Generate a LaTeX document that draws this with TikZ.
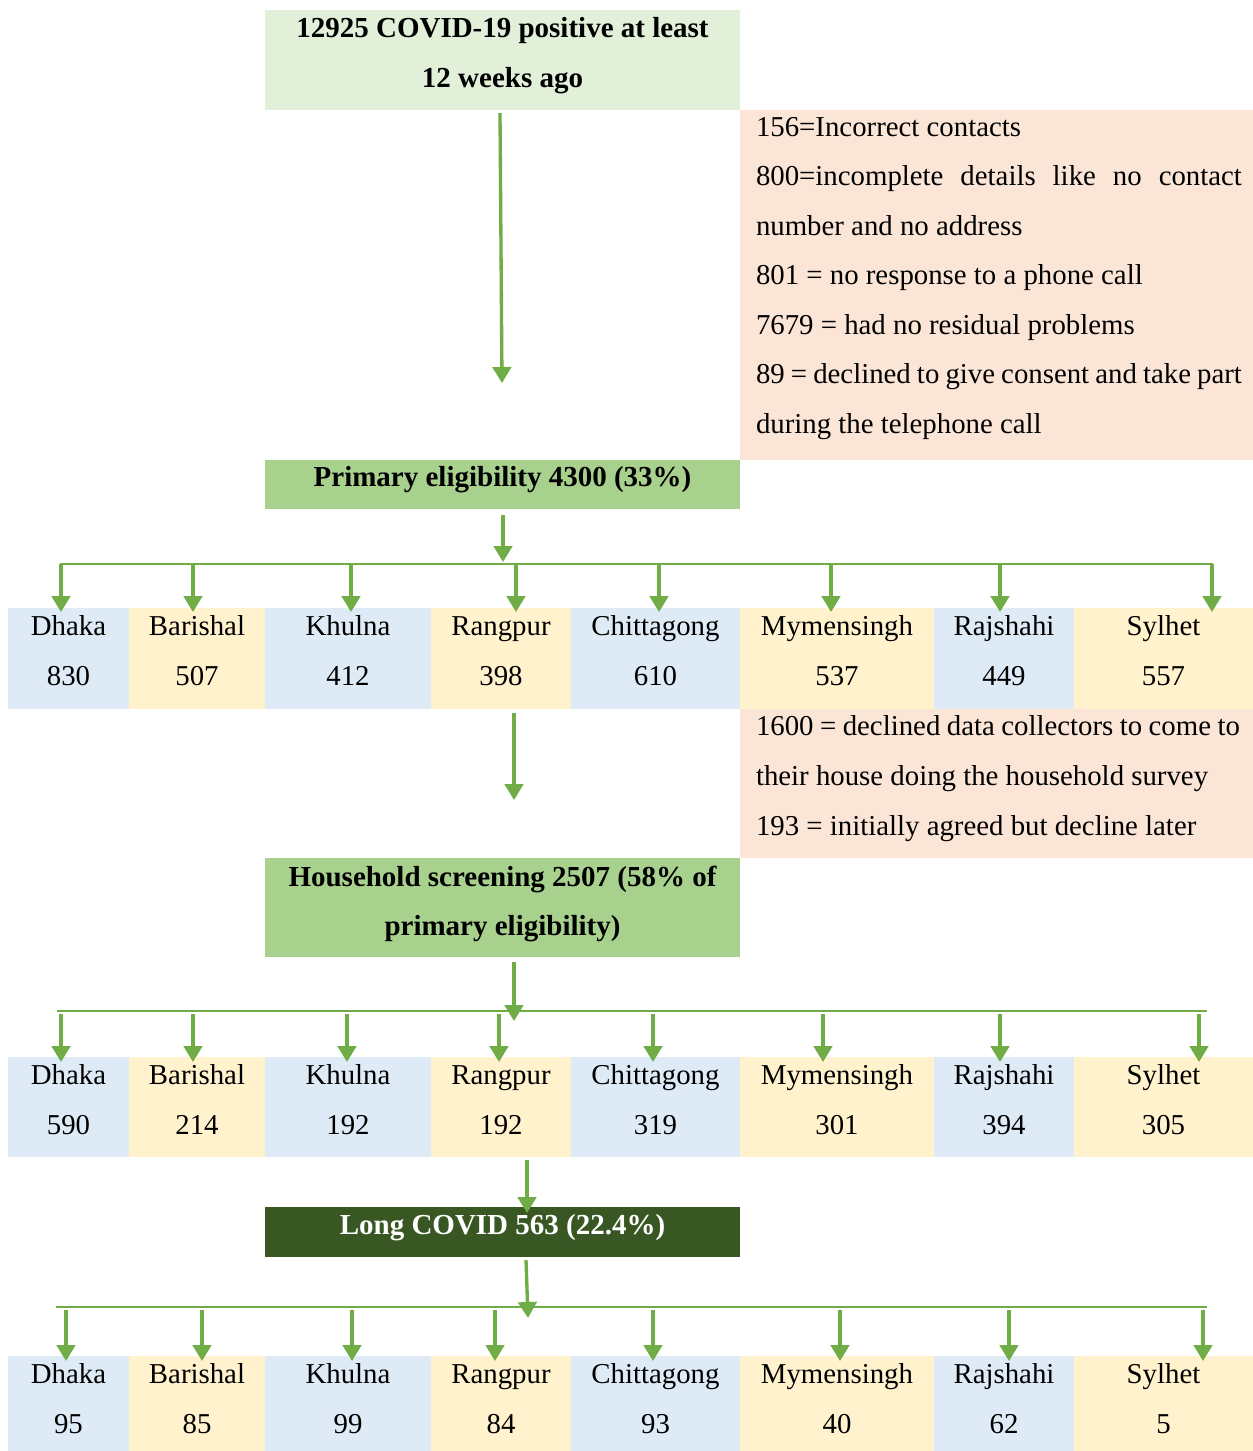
\documentclass[tikz,border=0pt]{standalone}
\usepackage{fontspec}
\setmainfont{Liberation Serif}
\usetikzlibrary{arrows.meta}
\definecolor{topgreen}{HTML}{E2EFD9}
\definecolor{midgreen}{HTML}{A9D18E}
\definecolor{darkgreen}{HTML}{385723}
\definecolor{pinkbox}{HTML}{FBE5D6}
\definecolor{cblue}{HTML}{DEEBF7}
\definecolor{cyel}{HTML}{FFF2CC}
\definecolor{agreen}{HTML}{70AD47}
\begin{document}
\begin{tikzpicture}[x=0.02cm,y=-0.02cm,
  every node/.style={inner sep=0pt,outer sep=0pt},
  blk/.style={anchor=north west,draw=none},
  tx/.style={font=\fontsize{16.4}{20}\selectfont},
  bt/.style={font=\fontsize{16.5}{20}\selectfont\bfseries},
  jtx/.style={tx,anchor=base west},
  arr/.style={draw=agreen,line width=1.9pt,-{Triangle[width=0.37cm,length=0.32cm]}},
  hline/.style={draw=agreen,line width=1.3pt}]
\path[use as bounding box,fill=white] (0,0) rectangle (1253,1451);

% main boxes
\node[blk,fill=topgreen,minimum width=9.5cm,minimum height=2cm] (top) at (265,10) {};
\node[blk,fill=pinkbox,minimum width=10.26cm,minimum height=7cm] (pink1) at (740,110) {};
\node[blk,fill=midgreen,minimum width=9.5cm,minimum height=0.98cm] (prim) at (265,460) {};
\node[blk,fill=pinkbox,minimum width=10.26cm,minimum height=2.98cm] (pink2) at (740,709) {};
\node[blk,fill=midgreen,minimum width=9.5cm,minimum height=1.98cm] (house) at (265,858) {};
\node[blk,fill=darkgreen,minimum width=9.5cm,minimum height=1cm] (longc) at (265,1207) {};

% region cells
\foreach \xa/\xb/\col/\nm/\va/\vb/\vc [count=\i] in {
  8/129/cblue/Dhaka/830/590/95,
  129/265/cyel/Barishal/507/214/85,
  265/431/cblue/Khulna/412/192/99,
  431/571/cyel/Rangpur/398/192/84,
  571/740/cblue/Chittagong/610/319/93,
  740/934/cyel/Mymensingh/537/301/40,
  934/1074/cblue/Rajshahi/449/394/62,
  1074/1253/cyel/Sylhet/557/305/5}{
  \foreach \r/\ty/\h/\v in {1/608/101/\va,2/1057/100/\vb,3/1356/95/\vc}{
    \node[blk,fill=\col,minimum width={(\xb-\xa)*0.02cm},minimum height={\h*0.02cm}] (c\r-\i) at (\xa,\ty) {};
    \node[tx,anchor=base] (n\r-\i) at ({(\xa+\xb)/2},{\ty+27}) {\nm};
    \node[tx,anchor=base] (v\r-\i) at ({(\xa+\xb)/2},{\ty+77}) {\v};
  }
}

% box texts
\node[bt,anchor=base] (t1) at (502.5,37) {12925 COVID-19 positive at least};
\node[bt,anchor=base] (t2) at (502.5,87) {12 weeks ago};
\node[bt,anchor=base] (tp) at (502.5,486) {Primary eligibility 4300 (33\%)};
\node[bt,anchor=base] (th1) at (502.5,886) {Household screening 2507 (58\% of};
\node[bt,anchor=base] (th2) at (502.5,935) {primary eligibility)};
\node[bt,anchor=base,text=white] (tl) at (502.5,1234) {Long COVID 563 (22.4\%)};

% exclusion texts
\node[tx,anchor=base west] (e1) at (756,136) {156=Incorrect contacts};
\node[jtx] (e2) at (756,185.5) {\makebox[9.72cm][s]{800=incomplete details like no contact}};
\node[tx,anchor=base west] (e3) at (756,235) {number and no address};
\node[tx,anchor=base west] (e4) at (756,284.5) {801 = no response to a phone call};
\node[tx,anchor=base west] (e5) at (756,334) {7679 = had no residual problems};
\node[jtx] (e6) at (756,383.5) {\makebox[9.72cm][s]{89 = declined to give consent and take part}};
\node[tx,anchor=base west] (e7) at (756,433) {during the telephone call};
\node[jtx] (f1) at (756,735) {\makebox[9.68cm][s]{1600 = declined data collectors to come to}};
\node[tx,anchor=base west] (f2) at (756,785) {their house doing the household survey};
\node[tx,anchor=base west] (f3) at (756,835) {193 = initially agreed but decline later};

% main arrows
\coordinate (a1s) at (500,113);
\coordinate (a1e) at (502,383);
\draw[arr] (a1s) -- (a1e);
\coordinate (a2s) at (503,515);
\coordinate (a2e) at (503,562);
\draw[arr] (a2s) -- (a2e);
\coordinate (a3s) at (514,713);
\coordinate (a3e) at (514,800);
\draw[arr] (a3s) -- (a3e);
\coordinate (a4s) at (514,962);
\coordinate (a4e) at (514,1021);
\draw[arr] (a4s) -- (a4e);
\coordinate (a5s) at (527,1160);
\coordinate (a5e) at (527,1213);
\draw[arr] (a5s) -- (a5e);
\coordinate (a6s) at (526,1260);
\coordinate (a6e) at (528,1318);
\draw[arr] (a6s) -- (a6e);

% distribution lines
\coordinate (l1a) at (60,564);
\coordinate (l1b) at (1213,564);
\draw[hline] (l1a) -- (l1b);
\coordinate (l2a) at (57,1011);
\coordinate (l2b) at (1207,1011);
\draw[hline] (l2a) -- (l2b);
\coordinate (l3a) at (56,1307);
\coordinate (l3b) at (1207,1307);
\draw[hline] (l3a) -- (l3b);

\foreach \x [count=\k] in {61,193,351,516,659,831,1000,1212}
  \draw[arr,shorten >=-0.08cm] (\x,564) -- (\x,564 |- c1-\k.north);
\foreach \x [count=\k] in {61,193,347,499,653,823,1000,1199}
  \draw[arr,shorten >=-0.1cm] (\x,1014) -- (\x,1014 |- c2-\k.north);
\foreach \x [count=\k] in {66,202,352,495,653,840,1009,1203}
  \draw[arr,shorten >=-0.1cm] (\x,1310) -- (\x,1310 |- c3-\k.north);
\end{tikzpicture}
\end{document}
